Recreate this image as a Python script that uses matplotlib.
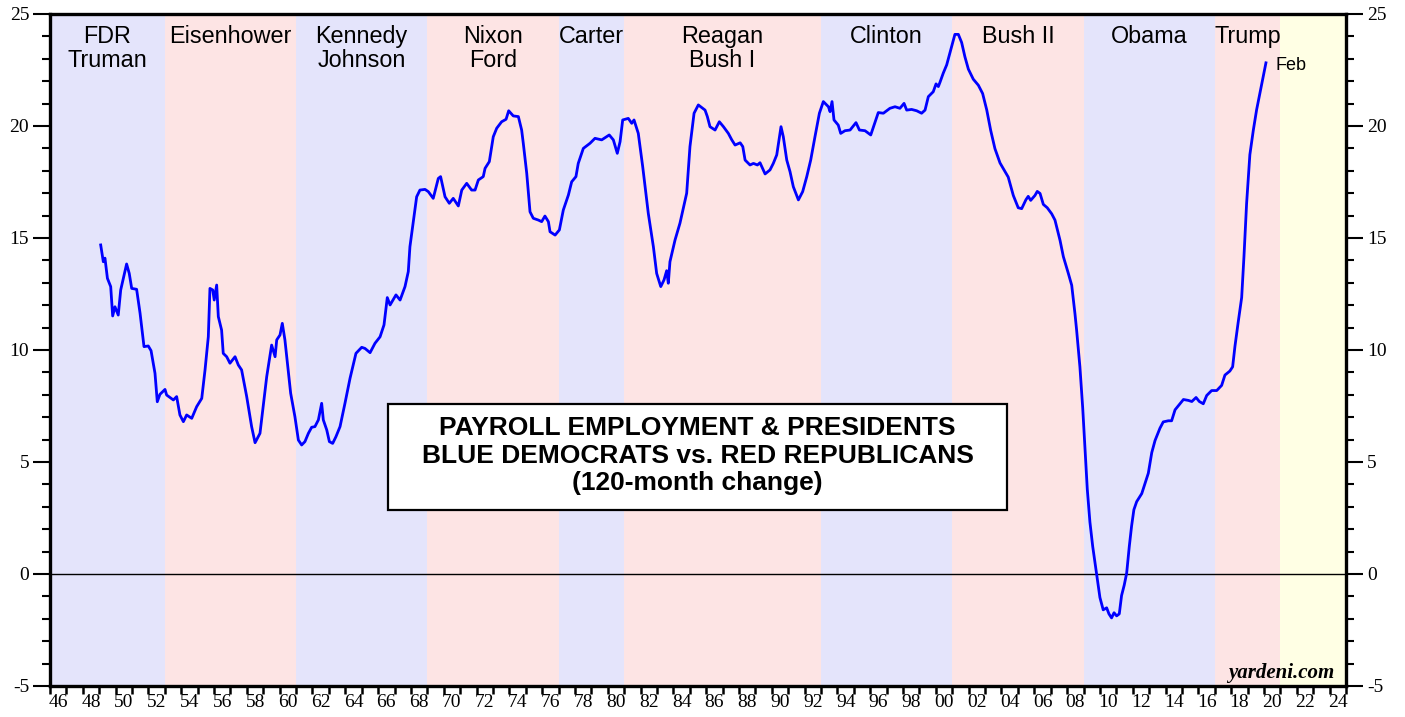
import matplotlib
matplotlib.use("Agg")
import matplotlib.pyplot as plt
from matplotlib.patches import Rectangle
from matplotlib.ticker import FixedLocator, NullFormatter, MultipleLocator

plt.rcParams["axes.unicode_minus"] = False

# ---------------- data ----------------
years = [
    1949.09, 1949.25, 1949.35, 1949.5, 1949.7, 1949.82, 1949.96, 1950.16, 1950.31, 1950.67,
    1950.83, 1950.98, 1951.28, 1951.49, 1951.73, 1951.99, 1952.16, 1952.4, 1952.54, 1952.7,
    1953.01, 1953.11, 1953.52, 1953.72, 1953.92, 1954.13, 1954.33, 1954.64, 1954.94, 1955.25,
    1955.45, 1955.65, 1955.75, 1955.92, 1956.01, 1956.16, 1956.26, 1956.46, 1956.56, 1956.77,
    1956.97, 1957.28, 1957.48, 1957.68, 1957.99, 1958.29, 1958.5, 1958.8, 1959.21, 1959.51,
    1959.72, 1959.82, 1960.02, 1960.16, 1960.32, 1960.47, 1960.67, 1960.93, 1961.14, 1961.34,
    1961.54, 1961.75, 1961.95, 1962.15, 1962.36, 1962.56, 1962.66, 1962.87, 1963.03, 1963.23,
    1963.43, 1963.68, 1963.98, 1964.29, 1964.65, 1965.0, 1965.2, 1965.51, 1965.81, 1966.12,
    1966.36, 1966.56, 1966.73, 1967.09, 1967.34, 1967.64, 1967.84, 1967.94, 1968.19, 1968.35,
    1968.55, 1968.86, 1969.06, 1969.36, 1969.67, 1969.81, 1970.08, 1970.34, 1970.58, 1970.89,
    1971.1, 1971.4, 1971.7, 1971.91, 1972.11, 1972.41, 1972.52, 1972.78, 1973.02, 1973.23,
    1973.53, 1973.8, 1973.96, 1974.24, 1974.55, 1974.75, 1974.85, 1975.06, 1975.26, 1975.46,
    1975.77, 1975.97, 1976.17, 1976.38, 1976.48, 1976.79, 1977.05, 1977.29, 1977.6, 1977.8,
    1978.06, 1978.2, 1978.51, 1978.92, 1979.22, 1979.63, 1980.09, 1980.34, 1980.58, 1980.75,
    1980.91, 1981.25, 1981.46, 1981.6, 1981.86, 1982.13, 1982.47, 1982.78, 1982.98, 1983.23,
    1983.43, 1983.59, 1983.69, 1983.79, 1984.1, 1984.4, 1984.81, 1985.01, 1985.26, 1985.52,
    1985.93, 1986.07, 1986.23, 1986.54, 1986.8, 1987.05, 1987.35, 1987.56, 1987.76, 1988.07,
    1988.23, 1988.37, 1988.67, 1988.88, 1989.12, 1989.28, 1989.59, 1989.89, 1990.09, 1990.3,
    1990.44, 1990.56, 1990.7, 1990.91, 1991.11, 1991.31, 1991.62, 1991.88, 1992.13, 1992.37,
    1992.63, 1992.9, 1993.14, 1993.45, 1993.55, 1993.67, 1993.79, 1994.05, 1994.2, 1994.46,
    1994.77, 1994.93, 1995.13, 1995.34, 1995.68, 1996.03, 1996.23, 1996.49, 1996.8, 1997.2,
    1997.51, 1997.81, 1998.06, 1998.22, 1998.52, 1998.83, 1999.13, 1999.34, 1999.54, 1999.84,
    2000.01, 2000.15, 2000.25, 2000.45, 2000.66, 2000.96, 2001.16, 2001.37, 2001.57, 2001.77,
    2001.98, 2002.28, 2002.59, 2002.85, 2003.1, 2003.34, 2003.6, 2003.91, 2004.41, 2004.72,
    2005.02, 2005.23, 2005.49, 2005.63, 2005.78, 2006.04, 2006.18, 2006.35, 2006.55, 2006.79,
    2007.06, 2007.26, 2007.57, 2007.77, 2008.07, 2008.28, 2008.48, 2008.58, 2008.78, 2008.95,
    2009.09, 2009.23, 2009.39, 2009.56, 2009.7, 2009.84, 2010.0, 2010.2, 2010.41, 2010.55,
    2010.71, 2010.86, 2011.02, 2011.18, 2011.32, 2011.48, 2011.63, 2011.79, 2011.93, 2012.07,
    2012.24, 2012.55, 2012.75, 2012.95, 2013.16, 2013.36, 2013.66, 2013.86, 2014.17, 2014.37,
    2014.58, 2014.88, 2015.09, 2015.39, 2015.6, 2015.86, 2016.06, 2016.3, 2016.51, 2016.81,
    2017.12, 2017.42, 2017.62, 2017.92, 2018.09, 2018.23, 2018.43, 2018.64, 2018.78, 2018.94,
    2019.14, 2019.35, 2019.55, 2019.75, 2019.95, 2020.12,
]
values = [
    14.69, 13.94, 14.1, 13.2, 12.83, 11.52, 11.93, 11.56, 12.68, 13.84,
    13.42, 12.75, 12.71, 11.64, 10.15, 10.18, 9.97, 8.96, 7.69, 8.02,
    8.24, 7.99, 7.77, 7.92, 7.1, 6.8, 7.1, 6.95, 7.47, 7.84,
    9.11, 10.59, 12.75, 12.68, 12.23, 12.9, 11.49, 10.89, 9.85, 9.7,
    9.41, 9.7, 9.33, 9.11, 7.92, 6.58, 5.86, 6.28, 8.81, 10.22,
    9.7, 10.45, 10.67, 11.19, 10.45, 9.41, 8.07, 7.02, 5.98, 5.76,
    5.91, 6.28, 6.55, 6.58, 6.88, 7.62, 6.88, 6.43, 5.91, 5.83,
    6.13, 6.58, 7.62, 8.74, 9.85, 10.12, 10.07, 9.88, 10.3, 10.59,
    11.12, 12.34, 12.01, 12.46, 12.23, 12.83, 13.5, 14.61, 15.95, 16.84,
    17.14, 17.17, 17.07, 16.77, 17.66, 17.74, 16.84, 16.55, 16.77, 16.43,
    17.14, 17.44, 17.14, 17.14, 17.59, 17.74, 18.11, 18.41, 19.52, 19.9,
    20.19, 20.3, 20.68, 20.45, 20.42, 19.82, 19.23, 17.89, 16.17, 15.88,
    15.8, 15.73, 15.98, 15.73, 15.28, 15.13, 15.36, 16.25, 16.92, 17.51,
    17.74, 18.33, 19.0, 19.23, 19.45, 19.38, 19.6, 19.38, 18.78, 19.3,
    20.27, 20.34, 20.12, 20.27, 19.67, 18.18, 16.1, 14.61, 13.42, 12.83,
    13.13, 13.54, 12.98, 13.94, 14.91, 15.66, 17.0, 19.08, 20.57, 20.94,
    20.71, 20.42, 19.97, 19.82, 20.19, 19.97, 19.67, 19.38, 19.15, 19.25,
    19.08, 18.48, 18.26, 18.33, 18.26, 18.36, 17.86, 18.04, 18.33, 18.71,
    19.38, 19.97, 19.52, 18.48, 17.96, 17.29, 16.7, 17.07, 17.74, 18.48,
    19.52, 20.57, 21.09, 20.86, 20.64, 21.09, 20.27, 20.04, 19.67, 19.79,
    19.82, 19.97, 20.15, 19.82, 19.79, 19.6, 20.04, 20.6, 20.57, 20.79,
    20.86, 20.79, 21.01, 20.71, 20.74, 20.68, 20.57, 20.71, 21.31, 21.53,
    21.88, 21.76, 21.95, 22.36, 22.73, 23.55, 24.09, 24.09, 23.73, 23.09,
    22.54, 22.09, 21.82, 21.45, 20.72, 19.81, 18.99, 18.35, 17.72, 16.9,
    16.35, 16.31, 16.71, 16.86, 16.68, 16.9, 17.08, 16.99, 16.5, 16.35,
    16.08, 15.8, 14.89, 14.17, 13.43, 12.89, 11.61, 10.88, 9.25, 7.42,
    5.6, 3.78, 2.32, 1.23, 0.5, -0.23, -1.05, -1.6, -1.51, -1.78,
    -1.96, -1.73, -1.87, -1.78, -0.96, -0.5, 0.04, 1.23, 2.14, 2.87,
    3.23, 3.59, 4.05, 4.5, 5.42, 5.96, 6.51, 6.79, 6.84, 6.84,
    7.33, 7.6, 7.79, 7.75, 7.7, 7.88, 7.7, 7.6, 7.97, 8.19,
    8.19, 8.42, 8.88, 9.06, 9.25, 10.16, 11.25, 12.34, 14.17, 16.53,
    18.72, 19.81, 20.72, 21.45, 22.18, 22.82,
]

term_starts = [1946, 1953, 1961, 1969, 1977, 1981, 1993, 2001, 2009, 2017, 2021]
term_ends = [1953, 1961, 1969, 1977, 1981, 1993, 2001, 2009, 2017, 2021, 2025]
term_party = ["D", "R", "D", "R", "D", "R", "D", "R", "D", "R", "N"]
term_labels = ["FDR\nTruman", "Eisenhower", "Kennedy\nJohnson", "Nixon\nFord", "Carter",
               "Reagan\nBush I", "Clinton", "Bush II", "Obama", "Trump", ""]

y_ticks = [-5, 0, 5, 10, 15, 20, 25]
x_label_years = list(range(1946, 2025, 2))

title_lines = ["PAYROLL EMPLOYMENT & PRESIDENTS",
               "BLUE DEMOCRATS vs. RED REPUBLICANS",
               "(120-month change)"]
last_label = "Feb"

# ---------------- style ----------------
party_colors = {"D": "#E4E4FB", "R": "#FDE4E4", "N": "#FFFFE4"}
SANS = ["Liberation Sans", "DejaVu Sans"]
SERIF = ["Liberation Serif", "DejaVu Serif"]

fig = plt.figure(figsize=(14.05, 7.17), dpi=100)
ax = fig.add_axes([50 / 1405, 1 - 686 / 717, 1296 / 1405, 672 / 717])

ax.set_xlim(1946, 2025)
ax.set_ylim(-5, 25)

for s, e, p, lab in zip(term_starts, term_ends, term_party, term_labels):
    ax.axvspan(s, e, color=party_colors[p], lw=0, zorder=0)
    if lab:
        for i, ln in enumerate(lab.split("\n")):
            ax.text((s + e) / 2, 1 - (43 - 14 + 24 * i) / 672, ln,
                    transform=ax.get_xaxis_transform(), ha="center", va="baseline",
                    fontsize=16.8, family=SANS, color="black", zorder=3)

ax.axhline(0, color="black", lw=1.0, zorder=1)
ax.plot(years, values, color="#0000FF", lw=2.0, zorder=4, solid_joinstyle="round")

ax.annotate(last_label, xy=(years[-1], values[-1]), xytext=(7, -2),
            textcoords="offset points", ha="left", va="center",
            fontsize=13, family=SANS, zorder=5)

# title box
bx0, bx1 = (388 - 50) / 1296, (1007 - 50) / 1296
by0, by1 = (686 - 510) / 672, (686 - 404) / 672
ax.add_patch(Rectangle((bx0, by0), bx1 - bx0, by1 - by0, transform=ax.transAxes,
                       facecolor="white", edgecolor="black", lw=1.6, zorder=6))
ax.text((bx0 + bx1) / 2, (by0 + by1) / 2 + 0.002, "\n".join(title_lines), transform=ax.transAxes,
        ha="center", va="center", fontsize=19, fontweight="bold", family=SANS,
        linespacing=1.2, zorder=7)

ax.text(0.991, 0.012, "yardeni.com", transform=ax.transAxes, ha="right", va="baseline",
        fontsize=15, fontweight="bold", fontstyle="italic", family=SERIF, zorder=6)

# spines
for sp in ax.spines.values():
    sp.set_linewidth(2.4)
    sp.set_zorder(8)

# y ticks
ax.yaxis.set_major_locator(FixedLocator(y_ticks))
ax.yaxis.set_minor_locator(MultipleLocator(1))
ax.tick_params(axis="y", which="major", left=True, right=True, labelleft=True, labelright=True,
               direction="out", length=12, width=1.5, labelsize=14, pad=3)
ax.tick_params(axis="y", which="minor", left=True, right=True, direction="out",
               length=6, width=1.5)

# x ticks: yearly ticks, labels centered in the year
ax.xaxis.set_major_locator(FixedLocator(list(range(1946, 2026))))
ax.xaxis.set_major_formatter(NullFormatter())
ax.xaxis.set_minor_locator(FixedLocator([y + 0.5 for y in x_label_years]))
ax.set_xticklabels([f"{y % 100:02d}" for y in x_label_years], minor=True)
ax.tick_params(axis="x", which="major", direction="out", length=6, width=1.8)
ax.tick_params(axis="x", which="minor", length=0, labelsize=14, pad=6)

for lab in ax.get_xticklabels(minor=True):
    lab.set_family(SERIF)
for t in ax.yaxis.get_major_ticks():
    t.label1.set_family(SERIF)
    t.label2.set_family(SERIF)
    t.label2.set_fontsize(14)

fig.savefig("out.png", dpi=100)
